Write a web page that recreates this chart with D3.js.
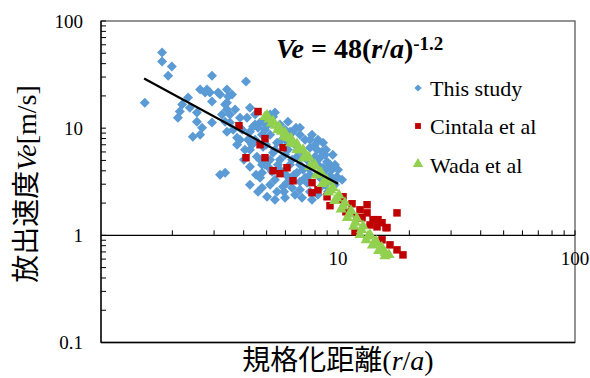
<!DOCTYPE html>
<html>
<head>
<meta charset="utf-8">
<script src="https://cdn.jsdelivr.net/npm/d3@7"></script>
<style>
  body { margin: 0; background: #fff; }
  text { font-family: "Liberation Serif", "Times New Roman", serif; }
  .jp { font-family: "Noto Sans CJK JP", sans-serif; }
  .lat { font-family: "Liberation Serif", "Times New Roman", serif; }
</style>
</head>
<body>
<svg class="chart"></svg>
<script>
// This study (r/a, Ve)
let studyX = [1.53, 1.81, 1.81, 1.99, 1.92, 2.94, 4.09, 2.33, 2.20, 2.15, 2.11, 2.37, 2.54, 2.54, 2.67, 2.44, 2.62, 2.94,
  2.62, 2.75, 2.88, 2.94, 3.18, 3.40, 3.44, 3.57, 3.40, 3.40, 3.24, 3.50, 3.34, 3.50, 3.40, 3.61, 3.75, 4.25, 3.86, 4.13,
  3.94, 4.25, 4.47, 4.34, 3.75, 4.25, 4.38, 4.83, 5.32, 6.40, 6.27, 7.26, 7.62, 7.05, 8.00, 8.99, 9.43, 9.90, 4.78, 5.07,
  4.69, 5.02, 5.53, 5.86, 6.71, 6.27, 7.85, 8.65, 4.47, 4.83, 5.53, 5.32, 4.55, 5.69, 6.71, 7.40, 8.16, 8.65, 2.80, 3.12,
  3.34, 3.18, 3.34, 6.09, 7.40, 7.62, 9.70, 4.78, 4.05, 4.69, 5.17, 5.98, 5.98, 6.59, 6.91, 7.62, 8.40, 9.25, 5.42, 5.69,
  5.17, 6.91, 8.40, 9.71, 8.82, 6.27, 4.92, 5.69, 6.15, 6.65, 6.91, 7.77, 8.23, 7.26, 6.59, 5.98, 5.42, 4.60, 5.17, 6.27,
  4.25, 9.25, 8.82, 5.98, 3.86, 4.92,
  4.47, 4.78, 5.07, 5.42, 5.80, 6.15, 6.40, 6.78, 7.12, 7.47, 7.92, 8.40, 8.90, 9.25, 9.62, 9.07, 8.23, 7.77, 6.91, 6.52,
  6.03, 5.58, 5.17, 4.78, 4.51, 4.25, 4.01, 4.17, 4.60, 4.97, 5.27, 5.92, 6.40, 7.05, 5.42, 4.69, 6.46, 8.00, 8.56, 7.62,
  3.86, 3.68, 6.91, 8.23, 8.90, 10.0, 10.4, 9.50];
let studyY = [17.3, 50.8, 41.8, 37.6, 30.9, 30.9, 27.2, 19.3, 16.6, 14.3, 12.5, 15.5, 14.0, 11.5, 10.1, 8.33, 8.70, 11.3,
  22.9, 21.5, 21.5, 17.7, 20.6, 22.9, 19.7, 20.6, 17.3, 14.9, 13.4, 13.4, 11.5, 11.3, 9.28, 9.68, 8.15, 15.5, 12.5, 12.5,
  9.68, 9.28, 10.8, 7.01, 7.01, 4.37, 10.3, 11.3, 12.8, 9.28, 7.32, 7.81, 6.57, 6.03, 5.42, 4.86, 4.09, 3.52, 3.84, 4.37,
  3.45, 2.29, 2.55, 2.84, 3.84, 3.30, 4.37, 4.27, 7.81, 6.72, 7.32, 5.90, 5.42, 5.08, 5.42, 5.08, 6.30, 7.32, 22.9, 21.5,
  16.6, 3.68, 3.84, 3.10, 3.10, 2.55, 2.96, 2.78, 6.30, 5.08, 8.70, 9.68, 5.65, 7.01, 4.56, 3.68, 3.45, 3.30, 3.30, 4.09,
  2.96, 2.66, 2.78, 4.56, 2.96, 4.56, 9.68, 10.8, 11.5, 10.1, 8.70, 8.70, 4.56, 3.45, 2.39, 2.24, 2.15, 2.55, 13.4, 9.28,
  2.96, 3.60, 5.65, 7.81, 7.81, 4.56,
  13.4, 8.70, 10.8, 6.30, 7.81, 6.30, 5.08, 6.30, 4.09, 4.27, 5.08, 5.30, 4.09, 4.56, 3.16, 2.55, 2.39, 2.15, 3.16, 3.68,
  3.68, 4.56, 5.08, 4.56, 3.68, 6.30, 5.08, 7.81, 10.1, 7.01, 3.92, 2.55, 2.78, 2.24, 14.0, 11.3, 9.28, 7.01, 6.03, 7.81,
  10.1, 14.9, 10.1, 7.81, 6.30, 4.09, 3.30, 5.65];

// Cintala et al
let cintalaX = [4.60, 3.82, 4.92, 4.69, 4.09, 4.92, 5.86, 6.09, 5.32, 5.69, 6.46, 7.77, 7.77, 8.23, 8.99, 9.25, 10.5, 11.46,
  12.38, 13.26, 13.26, 12.63, 14.05, 14.75, 13.65, 14.61, 16.10, 11.80, 17.74, 15.34, 16.57, 17.74, 18.8, 11.23, 12.03,
  15.34, 15.94, 10.0, 10.8];
let cintalaY = [14.3, 10.55, 7.98, 7.01, 5.30, 5.30, 6.57, 4.27, 4.01, 3.76, 3.23, 3.10, 2.50, 2.66, 2.29, 1.89, 2.29, 1.97,
  1.73, 1.93, 1.62, 1.46, 1.40, 1.40, 1.25, 1.20, 1.18, 1.08, 1.62, 0.908, 0.815, 0.732, 0.657, 1.62, 1.46,
  1.31, 1.18, 2.15, 1.66];

// Wada et al
let wadaX = [5.02, 5.32, 5.64, 5.98, 6.34, 6.71, 7.12, 7.54, 8.00, 8.48, 8.99, 9.53, 10.1, 10.7, 11.35, 12.0, 12.75, 13.65,
  14.5, 15.3, 16.4,
  4.92, 5.24, 5.57, 5.93, 6.31, 6.71, 7.14, 7.59, 8.07, 8.58, 9.12, 9.69, 10.31, 10.96, 11.65, 12.38, 13.16, 13.98, 14.86, 15.79,
  5.12, 5.44, 5.78, 6.14, 6.52, 6.92, 7.35, 7.80, 8.28, 8.79, 9.33, 9.90, 10.52, 11.16, 11.84, 12.57, 13.38, 14.24, 15.1, 15.8];
let wadaY = [13.1, 11.6, 10.3, 9.08, 8.03, 7.12, 6.30, 5.35, 4.54, 3.85, 3.27, 2.78, 2.36, 2.00, 1.70, 1.44, 1.22, 1.01,
  0.88, 0.77, 0.66,
  12.8, 11.1, 9.64, 8.36, 7.26, 6.30, 5.24, 4.37, 3.64, 3.03, 2.52, 2.10, 1.75, 1.46, 1.21, 1.01, 0.903, 0.806, 0.720, 0.643,
  12.1, 10.6, 9.33, 8.16, 7.15, 6.21, 5.29, 4.44, 3.74, 3.14, 2.64, 2.22, 1.87, 1.57, 1.32, 1.13, 0.98, 0.85, 0.75, 0.69];

// fit Ve = 48 (r/a)^-1.2
let fitA = 48, fitB = -1.2;
let fitRange = [1.52, 10];

let xTicks = [10, 100];
let yTicks = [0.1, 1, 10, 100];
let legendNames = ["This study", "Cintala et al", "Wada et al"];

function draw() {
  let width = 590, height = 378;
  let left = 101, right = 575, top = 21, bottom = 342.5;

  let svg = d3.select(".chart").attr("width", width).attr("height", height);

  let x = d3.scaleLog().domain([1, 100]).range([left, right]);
  let y = d3.scaleLog().domain([0.1, 100]).range([bottom, top]);

  // plot frame
  svg.append("rect")
    .attr("x", left).attr("y", top)
    .attr("width", right - left).attr("height", bottom - top)
    .attr("fill", "none").attr("stroke", "#595959").attr("stroke-width", 1.3);
  svg.append("line")
    .attr("x1", left).attr("x2", right).attr("y1", bottom).attr("y2", bottom)
    .attr("stroke", "#000").attr("stroke-width", 1.3);

  // y axis: ticks inside, labels at left
  let yMinor = [];
  [0.1, 1, 10].forEach(function(d) { for (let k = 2; k < 10; k++) yMinor.push(d * k); });
  let yAxis = svg.append("g").attr("transform", "translate(" + left + ",0)");
  yAxis.append("line").attr("y1", top).attr("y2", bottom).attr("stroke", "#000").attr("stroke-width", 1.3);
  yAxis.selectAll(".ymin").data(yMinor.concat(yTicks)).enter().append("line")
    .attr("x1", 0).attr("x2", 5)
    .attr("y1", function(d) { return y(d); }).attr("y2", function(d) { return y(d); })
    .attr("stroke", "#000").attr("stroke-width", 1);
  yAxis.selectAll(".ylab").data(yTicks).enter().append("text")
    .attr("x", -18).attr("y", function(d) { return y(d) + 6.5; })
    .attr("text-anchor", "end").attr("font-size", 19)
    .text(function(d) { return d; });

  // x axis crossing at Ve = 1, ticks upward
  let xMinor = [];
  [1, 10].forEach(function(d) { for (let k = 2; k < 10; k++) xMinor.push(d * k); });
  let xAxis = svg.append("g").attr("transform", "translate(0," + y(1) + ")");
  xAxis.append("line").attr("x1", left).attr("x2", right).attr("stroke", "#000").attr("stroke-width", 1.3);
  xAxis.selectAll(".xmin").data(xMinor.concat(xTicks)).enter().append("line")
    .attr("x1", function(d) { return x(d); }).attr("x2", function(d) { return x(d); })
    .attr("y1", 0).attr("y2", -5)
    .attr("stroke", "#000").attr("stroke-width", 1);
  xAxis.selectAll(".xlab").data(xTicks).enter().append("text")
    .attr("x", function(d) { return x(d); }).attr("y", 30)
    .attr("text-anchor", "middle").attr("font-size", 19)
    .text(function(d) { return d; });

  let plot = svg.append("g");

  let study = studyX.map(function(d, i) { return {x: d, y: studyY[i]}; });
  let cintala = cintalaX.map(function(d, i) { return {x: d, y: cintalaY[i]}; });
  let wada = wadaX.map(function(d, i) { return {x: d, y: wadaY[i]}; });

  let diamond = d3.symbol().type(d3.symbolSquare).size(50);
  let square = d3.symbol().type(d3.symbolSquare).size(56);
  let triangle = d3.symbol().type(d3.symbolTriangle).size(55);

  plot.selectAll(".study").data(study).enter().append("path")
    .attr("d", diamond)
    .attr("transform", function(d) { return "translate(" + x(d.x) + "," + y(d.y) + ") rotate(45)"; })
    .attr("fill", "#5B9BD5");

  plot.selectAll(".cintala").data(cintala).enter().append("path")
    .attr("d", square)
    .attr("transform", function(d) { return "translate(" + x(d.x) + "," + y(d.y) + ")"; })
    .attr("fill", "#C00000");

  plot.selectAll(".wada").data(wada).enter().append("path")
    .attr("d", triangle)
    .attr("transform", function(d) { return "translate(" + x(d.x) + "," + y(d.y) + ")"; })
    .attr("fill", "#92D050");

  // fit line
  let fit = fitRange.map(function(d) { return {x: d, y: fitA * Math.pow(d, fitB)}; });
  plot.append("path")
    .datum(fit)
    .attr("d", d3.line().x(function(d) { return x(d.x); }).y(function(d) { return y(d.y); }))
    .attr("stroke", "#000").attr("stroke-width", 2.2).attr("fill", "none");

  // equation
  let eq = svg.append("text").attr("class", "lat").attr("x", 276).attr("y", 58)
    .attr("font-size", 28).attr("font-weight", "bold");
  eq.append("tspan").attr("font-style", "italic").text("Ve");
  eq.append("tspan").text(" = 48(");
  eq.append("tspan").attr("font-style", "italic").text("r");
  eq.append("tspan").text("/");
  eq.append("tspan").attr("font-style", "italic").text("a");
  eq.append("tspan").text(")");
  eq.append("tspan").attr("font-size", 19).attr("dy", -8).text("-1.2");

  // legend
  let legendY = [88, 126, 165];
  let lg = svg.append("g");
  lg.append("path").attr("d", d3.symbol().type(d3.symbolSquare).size(26))
    .attr("transform", "translate(418," + legendY[0] + ") rotate(45)").attr("fill", "#5B9BD5");
  lg.append("path").attr("d", d3.symbol().type(d3.symbolSquare).size(34))
    .attr("transform", "translate(418," + legendY[1] + ")").attr("fill", "#C00000");
  lg.append("path").attr("d", d3.symbol().type(d3.symbolTriangle).size(48))
    .attr("transform", "translate(418," + (legendY[2] - 1) + ")").attr("fill", "#92D050");
  lg.selectAll(".ltext").data(legendNames).enter().append("text")
    .attr("x", 430).attr("y", function(d, i) { return legendY[i] + 8; })
    .attr("font-size", 22)
    .text(function(d) { return d; });

  // axis titles
  let xt = svg.append("text").attr("x", 338).attr("y", 370)
    .attr("text-anchor", "middle").attr("font-size", 28);
  xt.append("tspan").attr("class", "jp").text("規格化距離");
  xt.append("tspan").attr("class", "lat").text("(");
  xt.append("tspan").attr("class", "lat").attr("font-style", "italic").text("r");
  xt.append("tspan").attr("class", "lat").text("/");
  xt.append("tspan").attr("class", "lat").attr("font-style", "italic").text("a");
  xt.append("tspan").attr("class", "lat").text(")");

  let yt = svg.append("text")
    .attr("transform", "translate(36,184) rotate(-90)")
    .attr("text-anchor", "middle").attr("font-size", 28);
  yt.append("tspan").attr("class", "jp").text("放出速度");
  yt.append("tspan").attr("class", "lat").attr("font-style", "italic").text("Ve");
  yt.append("tspan").attr("class", "lat").text("[m/s]");
}

draw();
</script>
</body>
</html>
